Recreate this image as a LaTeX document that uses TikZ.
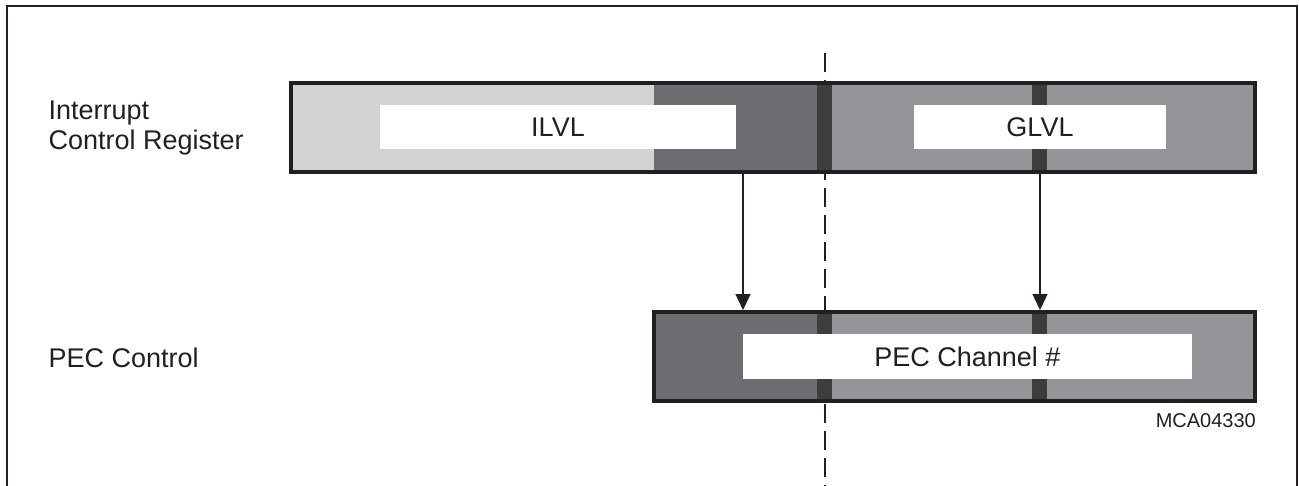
\documentclass[tikz,border=0pt]{standalone}
\usepackage{fontspec}
\setmainfont{Liberation Sans}
\usetikzlibrary{arrows.meta}
\definecolor{lightg}{RGB}{209,211,212}
\definecolor{darkg}{RGB}{109,110,113}
\definecolor{midg}{RGB}{147,149,152}
\definecolor{sepg}{RGB}{61,61,61}
\definecolor{ink}{RGB}{35,31,32}
\begin{document}
\begin{tikzpicture}[x=1pt,y=-1pt,
  reg/.style={draw=ink, line width=4pt, inner sep=0pt, minimum height=89pt},
  wbox/.style={fill=white, inner sep=0pt, text=ink, font=\fontsize{27}{30}\selectfont},
  lbl/.style={inner sep=0pt, text=ink, align=left, font=\fontsize{27}{30}\selectfont},
  small/.style={inner sep=0pt, text=ink, font=\fontsize{20}{24}\selectfont},
  arr/.style={draw=ink, line width=1.4pt, -{Triangle[length=16pt,width=15pt]}},
  sepbar/.style={fill=sepg},
  guide/.style={draw=ink, line width=1.7pt, dash pattern=on 19pt off 8pt},
  frame/.style={draw=ink, line width=2pt}]
\useasboundingbox (0,0) rectangle (1299,485);
% outer frame
\draw[frame] (7,6) rectangle (1297,487);
% dashed guide line (behind the registers)
\coordinate (dtop) at (825,52.7);
\coordinate (dbot) at (825,486);
\draw[guide] (dtop) -- (dbot);
% interrupt control register fills
\fill[lightg] (291,83) rectangle (654,172);
\fill[darkg] (654,83) rectangle (817,172);
\fill[midg] (832,83) rectangle (1255,172);
\fill[sepbar] (817,83) rectangle (832,172);
\fill[sepbar] (1032,83) rectangle (1047,172);
% PEC control fills
\fill[darkg] (654,312) rectangle (817,401);
\fill[midg] (832,312) rectangle (1255,401);
\fill[sepbar] (817,312) rectangle (832,401);
\fill[sepbar] (1032,312) rectangle (1047,401);
% white field boxes
\node[wbox, minimum width=356pt, minimum height=44pt] (ilvl) at (558,127) {ILVL};
\node[wbox, minimum width=252pt, minimum height=44pt] (glvl) at (1040,127) {GLVL};
\node[wbox, minimum width=449pt, minimum height=45pt] (pecch) at (967.5,356.5) {PEC Channel \#};
% register borders
\node[reg, minimum width=964pt] (icr) at (773,127.5) {};
\node[reg, minimum width=601pt] (pec) at (954.5,356.5) {};
% arrows
\coordinate (ax1) at (743,0);
\coordinate (ax2) at (1040,0);
\draw[arr] (icr.south -| ax1) -- (pec.north -| ax1);
\draw[arr] (icr.south -| ax2) -- (pec.north -| ax2);
% labels
\node[lbl, anchor=west] (licr) at (48.5,128.5) {Interrupt\\Control Register};
\node[lbl, anchor=base west] (lpec) at (48.5,367) {PEC Control};
\node[small, anchor=base east] (code) at (1256,427.5) {MCA04330};
\end{tikzpicture}
\end{document}
